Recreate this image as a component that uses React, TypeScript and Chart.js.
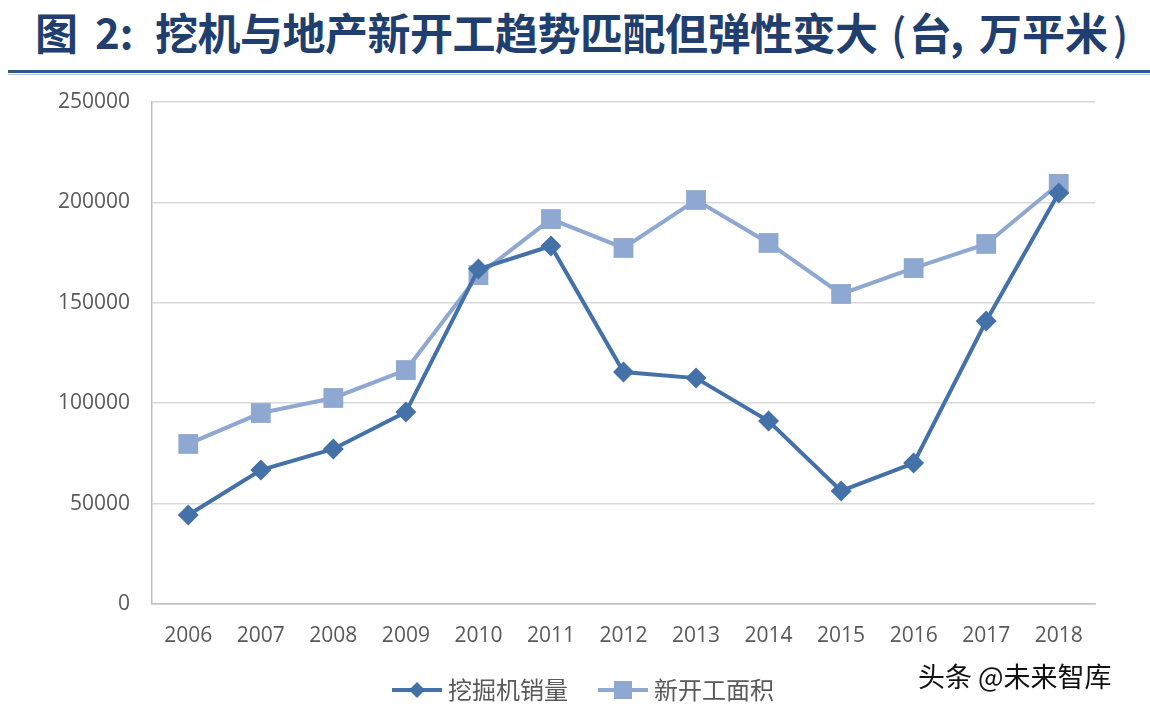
import React, { useEffect, useRef } from "react";
import { Chart, registerables } from "chart.js";

Chart.register(...registerables);

const years = ["2006", "2007", "2008", "2009", "2010", "2011", "2012", "2013", "2014", "2015", "2016", "2017", "2018"];
const excavatorSales = [44300, 66700, 77200, 95600, 166800, 178300, 115500, 112500, 91100, 56300, 70200, 140900, 204700];
const newStartsArea = [79700, 95100, 102600, 116500, 163800, 191700, 177300, 201200, 179800, 154400, 167300, 179300, 209200];
const seriesNames = ["挖掘机销量", "新开工面积"];
const yMax = 250000;
const yStep = 50000;

const DARK = "#4472A8";
const LIGHT = "#8FA8D2";
const TICK_FONT = "'Open Sans', 'Liberation Sans', sans-serif";
const CJK_FONT = "'Noto Sans CJK SC', sans-serif";

const legendPlugin = {
  id: "bottomLegend",
  afterDraw(chart: any) {
    const ctx = chart.ctx;
    const y = 690;
    ctx.save();
    ctx.font = `24px ${CJK_FONT}`;
    ctx.textBaseline = "middle";
    const lineLen = 50;
    const gapText = 6;
    const gapItems = 30;
    const widths = seriesNames.map((n) => ctx.measureText(n).width);
    const total = widths.reduce((a, w) => a + lineLen + gapText + w, 0) + gapItems;
    let x = 583 - total / 2;
    chart.data.datasets.forEach((ds: any, i: number) => {
      ctx.strokeStyle = ds.borderColor;
      ctx.lineWidth = 4;
      ctx.beginPath();
      ctx.moveTo(x, y);
      ctx.lineTo(x + lineLen, y);
      ctx.stroke();
      ctx.fillStyle = ds.pointBackgroundColor;
      const cx = x + lineLen / 2;
      if (i === 0) {
        ctx.beginPath();
        ctx.moveTo(cx, y - 8);
        ctx.lineTo(cx + 8, y);
        ctx.lineTo(cx, y + 8);
        ctx.lineTo(cx - 8, y);
        ctx.closePath();
        ctx.fill();
      } else {
        ctx.fillRect(cx - 9, y - 9, 18, 18);
      }
      ctx.fillStyle = "#595959";
      ctx.textAlign = "left";
      ctx.fillText(seriesNames[i], x + lineLen + gapText, y);
      x += lineLen + gapText + widths[i] + gapItems;
    });
    ctx.restore();
  },
};

export default function App() {
  const canvasRef = useRef<HTMLCanvasElement | null>(null);

  useEffect(() => {
    document.body.style.margin = "0";
    const canvas = canvasRef.current;
    if (!canvas) return;
    const chart = new Chart(canvas, {
      type: "line",
      data: {
        labels: years,
        datasets: [
          {
            label: seriesNames[0],
            data: excavatorSales,
            borderColor: DARK,
            backgroundColor: DARK,
            pointBackgroundColor: DARK,
            pointBorderColor: DARK,
            borderWidth: 4,
            pointStyle: "rectRot",
            pointRadius: 10.5,
            pointBorderWidth: 0,
            tension: 0,
            order: 0,
          },
          {
            label: seriesNames[1],
            data: newStartsArea,
            borderColor: LIGHT,
            backgroundColor: LIGHT,
            pointBackgroundColor: LIGHT,
            pointBorderColor: LIGHT,
            borderWidth: 4,
            pointStyle: "rect",
            pointRadius: 14,
            pointBorderWidth: 0,
            tension: 0,
            order: 1,
          },
        ],
      },
      options: {
        responsive: false,
        animation: false,
        layout: { padding: { top: 102, bottom: 58, left: 0, right: 55 } },
        plugins: {
          legend: { display: false },
          tooltip: { enabled: false },
          title: { display: false },
        },
        scales: {
          x: {
            offset: true,
            grid: { display: false, drawTicks: false },
            border: { display: true, color: "#BFBFBF", width: 1.5 },
            ticks: {
              color: "#595959",
              font: { family: TICK_FONT, size: 21 },
              padding: 19,
              maxRotation: 0,
            },
            afterFit: (scale: any) => {
              scale.height = 50;
            },
          },
          y: {
            min: 0,
            max: yMax,
            grid: { color: "#D9D9D9", lineWidth: 1.5, drawTicks: false },
            border: { display: true, color: "#BFBFBF", width: 1.5 },
            ticks: {
              stepSize: yStep,
              color: "#595959",
              font: { family: TICK_FONT, size: 21 },
              padding: 22,
              callback: (v: any) => String(v),
            },
            afterFit: (scale: any) => {
              scale.width = 152;
            },
          },
        },
      },
      plugins: [legendPlugin],
    });
    return () => chart.destroy();
  }, []);

  const titleStyle: React.CSSProperties = {
    position: "absolute",
    top: 1,
    fontFamily: CJK_FONT,
    fontWeight: 700,
    fontSize: 43,
    lineHeight: "60px",
    color: "#213F6E",
    whiteSpace: "pre",
  };

  return (
    <div style={{ position: "relative", width: 1150, height: 712, background: "#fff", overflow: "hidden" }}>
      <div style={{ ...titleStyle, left: 35 }}>图</div>
      <div style={{ ...titleStyle, left: 95, fontSize: 42 }}>2:</div>
      <div style={{ ...titleStyle, left: 155, letterSpacing: "-0.5px" }}>挖机与地产新开工趋势匹配但弹性变大</div>
      <div style={{ ...titleStyle, left: 891, fontWeight: 500 }}>(</div>
      <div style={{ ...titleStyle, left: 909 }}>台</div>
      <div style={{ ...titleStyle, left: 950 }}>,</div>
      <div style={{ ...titleStyle, left: 979 }}>万平米</div>
      <div style={{ ...titleStyle, left: 1113, fontWeight: 500 }}>)</div>
      <div style={{ position: "absolute", left: 8, top: 70, width: 1142, height: 3, background: "#2F5A8E" }} />
      <div style={{ position: "absolute", left: 8, top: 74, width: 1142, height: 1, background: "#B8C7DA" }} />
      <canvas ref={canvasRef} width={1150} height={712} style={{ position: "absolute", left: 0, top: 0 }} />
      <div
        style={{
          position: "absolute",
          left: 918,
          top: 658,
          fontFamily: CJK_FONT,
          fontSize: 27,
          lineHeight: "36px",
          color: "#111",
          whiteSpace: "pre",
        }}
      >
        {"头条 @未来智库"}
      </div>
    </div>
  );
}
